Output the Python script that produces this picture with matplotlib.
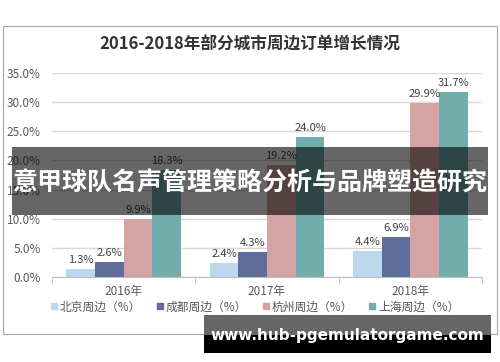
import matplotlib
matplotlib.use('Agg')
import matplotlib.pyplot as plt
from matplotlib.patches import Rectangle
from matplotlib.lines import Line2D
import numpy as np

plt.rcParams['font.family'] = ['Noto Sans CJK SC', 'DejaVu Sans']

years = ['2016年', '2017年', '2018年']
series_names = ['北京周边（%）', '成都周边（%）', '杭州周边（%）', '上海周边（%）']
beijing = [1.3, 2.4, 4.4]
chengdu = [2.6, 4.3, 6.9]
hangzhou = [9.9, 19.2, 29.9]
shanghai = [18.3, 24.0, 31.7]
colors = ['#bdd7ee', '#5f6d9b', '#d4a3a3', '#72adae']
yticks = [0, 5, 10, 15, 20, 25, 30, 35]

title = '2016-2018年部分城市周边订单增长情况'
banner = '意甲球队名声管理策略分析与品牌塑造研究'
watermark = 'www.hub-pgemulatorgame.com'

fig = plt.figure(figsize=(5, 3.62), dpi=100)
fig.patch.set_facecolor('white')

# outer chart frame
fig.add_artist(Rectangle((0.006, 0.077), 0.988, 0.851, transform=fig.transFigure,
                         fill=False, edgecolor='#a6a6a6', linewidth=0.8))

ax = fig.add_axes([0.104, 0.235, 0.86, 0.5635])
x = np.arange(len(years))
w = 0.2
all_series = [beijing, chengdu, hangzhou, shanghai]
for i, vals in enumerate(all_series):
    bars = ax.bar(x + (i - 1.5) * w, vals, width=w, color=colors[i], zorder=2)
    ax.bar_label(bars, labels=['%.1f%%' % v for v in vals], padding=3,
                 fontsize=8, color='#404040')

ax.set_xlim(-0.5, 2.5)
ax.set_ylim(0, 35)
ax.set_yticks(yticks)
ax.set_yticklabels(['%.1f%%' % t for t in yticks], fontsize=8.5, color='#595959')
ax.set_xticks(x)
ax.set_xticklabels(years, fontsize=8.5, color='#595959')
ax.set_xticks([-0.5, 0.5, 1.5, 2.5], minor=True)
ax.tick_params(axis='x', which='major', length=0, pad=6)
ax.tick_params(axis='x', which='minor', length=4, color='#bfbfbf')
ax.tick_params(axis='y', length=0, pad=8)
ax.grid(axis='y', color='#d9d9d9', linewidth=1, zorder=0)
for s in ['left', 'right', 'top']:
    ax.spines[s].set_visible(False)
ax.spines['bottom'].set_color('#bfbfbf')

fig.text(0.5, 0.876, title, ha='center', va='center', fontsize=12,
         fontweight='bold', color='#333333')

handles = [Line2D([0], [0], marker='s', linestyle='', markersize=4.5,
                  markerfacecolor=c, markeredgecolor=c) for c in colors]
fig.legend(handles, series_names, loc='center', bbox_to_anchor=(0.51, 0.152),
           ncol=4, frameon=False, fontsize=8.5, labelcolor='#595959',
           handlelength=0.6, handletextpad=0.2, columnspacing=1.3)

# dark banner across the middle
fig.add_artist(Rectangle((0.024, 0.406), 0.952, 0.188, transform=fig.transFigure,
                         facecolor='black', alpha=0.6, edgecolor='none', zorder=5))
fig.text(0.5, 0.494, banner, ha='center', va='center', fontsize=18,
         fontweight='bold', color='white', zorder=6)

# watermark box at bottom right
fig.add_artist(Rectangle((0.408, 0.075), 0.574, 0.055, transform=fig.transFigure,
                         facecolor='#666666', edgecolor='none', zorder=5))
fig.add_artist(Rectangle((0.408, 0.025), 0.574, 0.05, transform=fig.transFigure,
                         facecolor='black', edgecolor='none', zorder=5))
fig.text(0.695, 0.072, watermark, ha='center', va='center', fontsize=11,
         fontweight='bold', color='white', family=['DejaVu Sans'], zorder=6)

fig.savefig('out.png', dpi=100)
